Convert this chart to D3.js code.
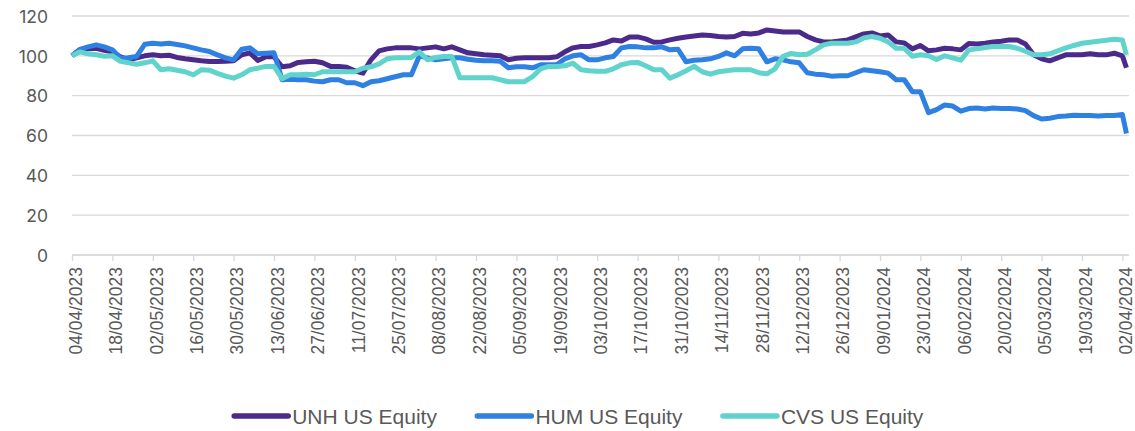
<!DOCTYPE html>
<html>
<head>
<meta charset="utf-8">
<script src="https://cdn.jsdelivr.net/npm/d3@7"></script>
<style>
  html, body { margin: 0; padding: 0; background: #ffffff; }
  svg { display: block; }
</style>
</head>
<body>
<div id="chart"></div>
<script>
// ---- data (trading-day index, sampled every 2nd trading day + last day) ----
const tickLabels = ["04/04/2023","18/04/2023","02/05/2023","16/05/2023","30/05/2023","13/06/2023",
  "27/06/2023","11/07/2023","25/07/2023","08/08/2023","22/08/2023","05/09/2023","19/09/2023",
  "03/10/2023","17/10/2023","31/10/2023","14/11/2023","28/11/2023","12/12/2023","26/12/2023",
  "09/01/2024","23/01/2024","06/02/2024","20/02/2024","05/03/2024","19/03/2024","02/04/2024"];
const tickDays = tickLabels.map((d, i) => i * 10);
const yTicks = [0, 20, 40, 60, 80, 100, 120];

const seriesNames = ["UNH US Equity", "HUM US Equity", "CVS US Equity"];

const unh = [100,103.2,103.6,103.8,102.8,102,99.5,98,99,100,100.5,100,100.3,99.2,98.5,98,97.5,97.2,97.2,97.3,
  97.5,100.5,101.5,97.7,99.5,99.5,94.5,95,96.7,97,97.3,96.5,94.7,94.7,94.3,92.5,91.3,98,102.5,103.5,
  104,104,104,103.5,104,104.5,103.5,104.5,103,101.5,101,100.5,100.3,100,98,98.8,99,99,99,99,
  99.5,102,104,104.7,104.7,105.5,106.5,108,107.5,109.5,109.5,108.5,106.8,107,108,108.8,109.5,110,110.5,110.2,
  109.7,109.5,109.7,111.3,111,111.5,113,112.5,112,112,112,109.7,108,107,107,107.5,108,109.5,111,111.5,
  110,110.5,107,106.5,103.5,105.2,102.5,103,103.8,103.5,103,106.2,106,106.3,107,107.3,108,108,106,100.5,
  98.5,97.5,99,100.5,100.5,100.5,101,100.5,100.5,101.3,100,94];
const hum = [100,103.2,104.5,105.5,104.5,103,98.8,99,99.7,105.8,106.3,106,106.3,105.7,105,104,103,102.2,100.5,99,
  98,103.3,104,101,101.3,101.5,88,88.3,88,88,87.3,87,88,88,86.5,86.5,85,87,87.5,88.5,
  89.5,90.5,90.5,100,99,98,98.5,99,99,98.3,97.8,97.5,97.5,97.3,94,94.5,94.5,94,95.5,95.5,
  95.5,98.5,100,100.5,98,98,99,99.7,104,104.7,104.5,104,104,104.5,103,103.3,97,97.8,98,98.5,
  99.7,101.5,100,103.5,103.8,103.5,97,98.5,98,97,96.5,91.5,90.8,90.5,89.8,90,90,91.5,93,92.5,
  92,91.3,88,88,82,82,71.5,73,75.3,74.8,72.2,73.5,73.8,73.3,73.8,73.5,73.5,73.3,72.5,70,
  68.3,68.7,69.5,69.8,70.2,70,70,69.8,70,70,70.5,61];
const cvs = [100,102,101,100.5,99.8,100,97.2,96.5,95.8,96.5,97.5,93,93.5,92.8,92,90.5,93,92.8,91.2,89.8,
  88.8,90.5,93,93.8,94.7,94.7,88.5,90.5,90.5,90.8,90.5,92,92,92,92,92,93.8,94.5,96,98.5,
  99,99,99.2,102,98,99.2,99.7,99.7,89,89,89,89,89,88,87,87,87,89.5,93.5,94.7,
  94.7,95,96.3,93,92.5,92.2,92.2,93.5,95.5,96.5,96.7,95,93,93,88.8,90.5,92.5,94.7,92,90.8,
  92,92.5,93,93,93,91.5,91,93.5,99.7,101.2,100.5,100.8,103,105.5,106.3,106.3,106.3,107,109,109.7,
  108.8,107,103.8,103.8,99.8,100.5,100,98.2,100,99,97.8,103,103.5,104.2,104.7,104.7,104.7,103.8,102.3,100.5,
  100.5,101,102.5,104,105.2,106.3,106.8,107.3,107.8,108.3,108,100.5];

// trading-day index of each sample: every 2nd trading day, then the final day (03/04/2024)
const sampleDays = d3.range(0, 261, 2).concat([261]);

const seriesValues = [unh, hum, cvs];
const colors = ["#4b2a8c", "#2e80e2", "#5fd3cc"];

// ---- layout ----
const W = 1135, H = 431;
const svg = d3.select("#chart").append("svg").attr("width", W).attr("height", H);

const x = d3.scaleLinear().domain([0, 260]).range([72, 1122.4]);
const y = d3.scaleLinear().domain([0, 120]).range([255, 16]);
const plotRight = 1129;

// gridlines
svg.append("g").selectAll("line").data(yTicks).join("line")
  .attr("x1", 72).attr("x2", plotRight)
  .attr("y1", d => y(d)).attr("y2", d => y(d))
  .attr("stroke", "#d9d9d9").attr("stroke-width", 1.3);

// y axis labels
const yAxis = d3.axisLeft(y).tickValues(yTicks).tickSize(0).tickPadding(0).tickFormat(d3.format("d"));
const yg = svg.append("g").attr("transform", "translate(48,0)").call(yAxis);
yg.select(".domain").remove();
yg.selectAll("text").attr("font-family", "Inter, 'Open Sans', sans-serif").attr("font-size", 17.5)
  .attr("fill", "#595959").attr("dy", "0.36em");

// x axis
const xAxis = d3.axisBottom(x).tickValues(tickDays).tickSize(6).tickSizeOuter(0)
  .tickFormat((d, i) => tickLabels[i]);
const xg = svg.append("g").attr("transform", `translate(0,${y(0)})`).call(xAxis);
xg.select(".domain").attr("d", `M72,0H${plotRight}`).attr("stroke", "#d9d9d9").attr("stroke-width", 1.3);
xg.selectAll(".tick line").attr("stroke", "#d9d9d9").attr("stroke-width", 1.3);
xg.selectAll(".tick text")
  .attr("font-family", "'Liberation Sans', Arial, sans-serif").attr("font-size", 17.5)
  .attr("fill", "#595959")
  .attr("text-anchor", "end")
  .attr("transform", "rotate(-90)")
  .attr("x", -12).attr("y", 3).attr("dy", "0.36em");

// lines
const line = d3.line().x((d, i) => x(sampleDays[i])).y(d => y(d));
svg.append("g").selectAll("path").data(seriesValues).join("path")
  .attr("d", d => line(d))
  .attr("fill", "none")
  .attr("stroke", (d, i) => colors[i])
  .attr("stroke-width", 5)
  .attr("stroke-linejoin", "round")
  .attr("stroke-linecap", "butt");

// legend
const legendY = 416;
const lineLen = 54, gap = 4, itemGap = 40;
const lg = svg.append("g").attr("font-family", "'Liberation Sans', Arial, sans-serif").attr("font-size", 21);
const items = lg.selectAll("g").data(seriesNames).join("g");
items.append("line").attr("x1", 0).attr("x2", lineLen).attr("y1", legendY).attr("y2", legendY)
  .attr("stroke", (d, i) => colors[i]).attr("stroke-width", 5.5).attr("stroke-linecap", "round");
items.append("text").attr("x", lineLen + gap).attr("y", legendY).attr("dy", "0.36em")
  .attr("fill", "#595959").text(d => d);
let widths = [];
items.each(function() { widths.push(this.getBBox().width); });
const total = d3.sum(widths) + itemGap * (widths.length - 1);
let cx = 579 - total / 2;
items.each(function(d, i) {
  d3.select(this).attr("transform", `translate(${cx},0)`);
  cx += widths[i] + itemGap;
});
</script>
</body>
</html>
